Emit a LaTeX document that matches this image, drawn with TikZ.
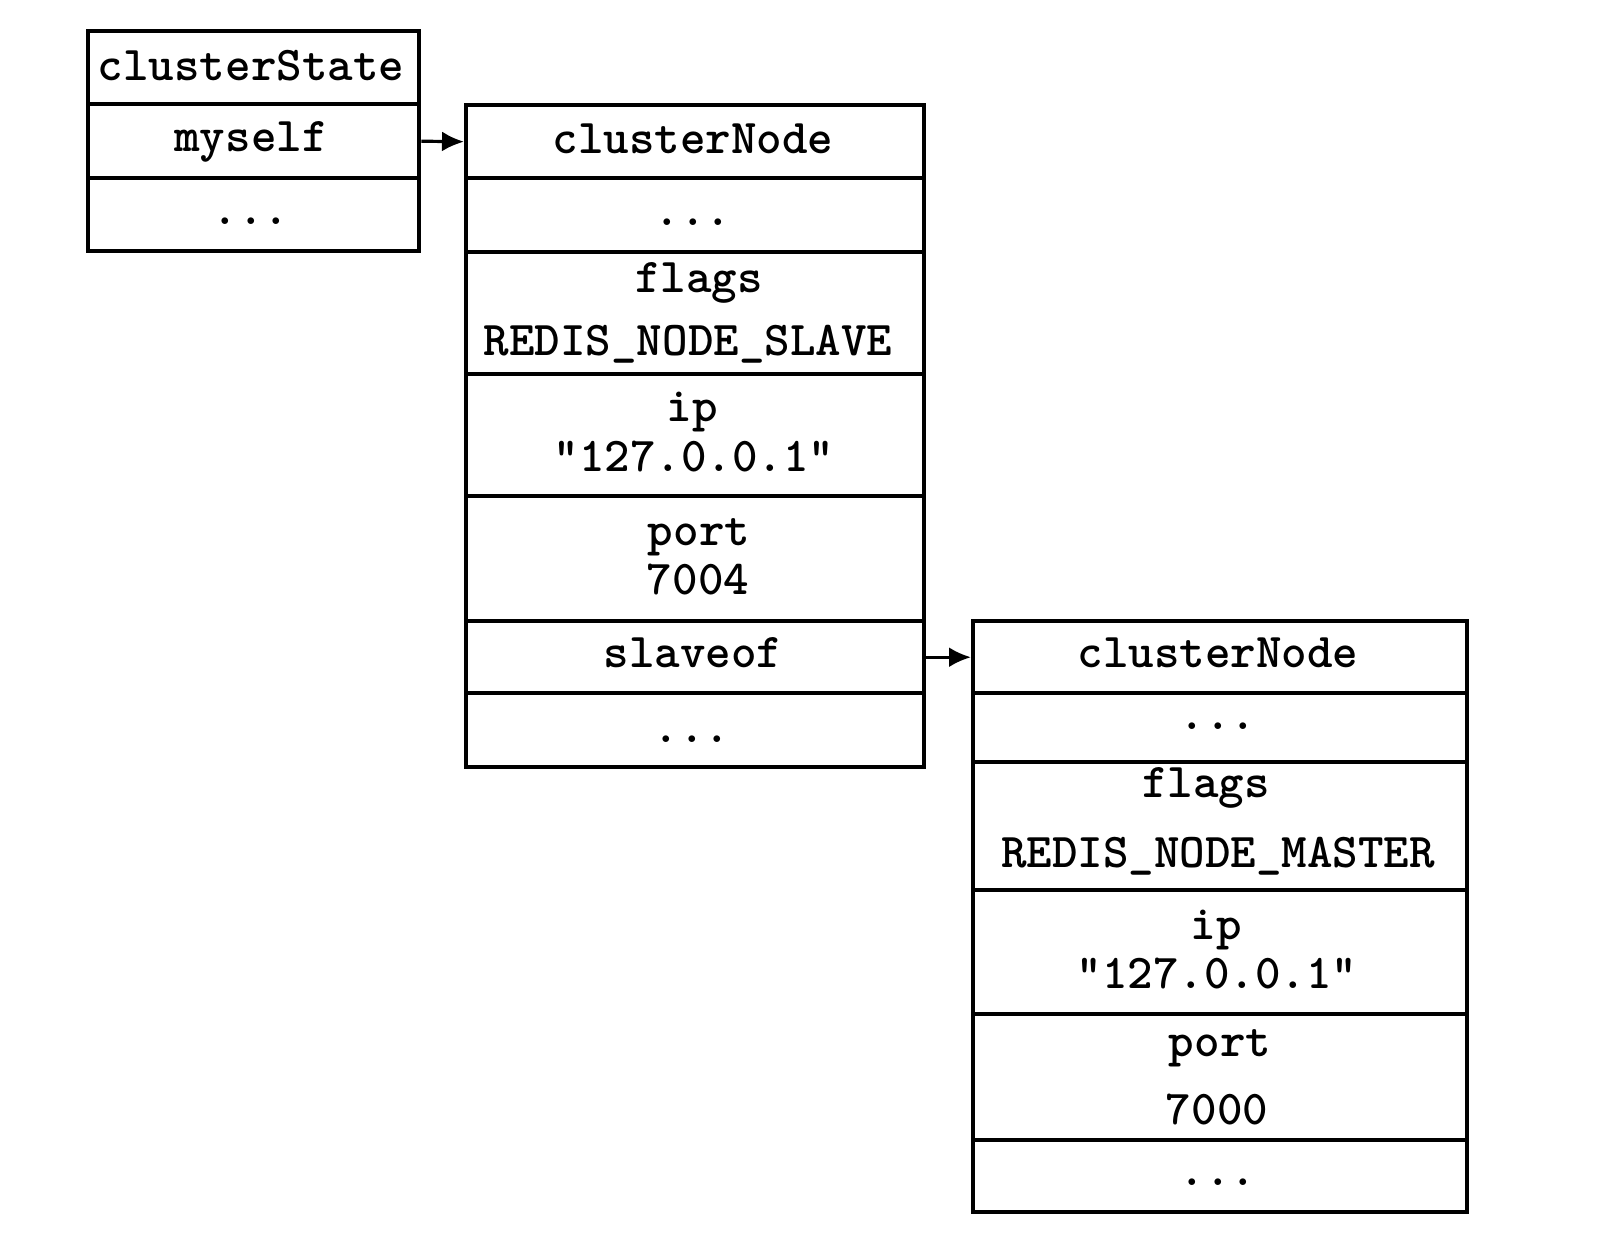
\documentclass[tikz,border=0pt]{standalone}
\usepackage{fontspec}
\usetikzlibrary{arrows.meta}
\tikzset{
  rowbox/.style={draw, line width=2.2pt, rectangle, inner sep=0pt, anchor=north west},
  txt/.style={anchor=base, inner sep=0pt, font=\ttfamily\bfseries\fontsize{24.3}{28}\selectfont},
  ptr/.style={line width=1.6pt, -{Latex[length=11pt,width=10pt]}}
}
\newcommand{\rowb}[5]{\node[rowbox, minimum width=#4*0.5pt, minimum height=#5*0.5pt] (#1) at (#2,#3) {};}
\begin{document}
\begin{tikzpicture}[x=0.5pt,y=-0.5pt]
\useasboundingbox (0,0) rectangle (1622,1250);
% clusterState
\rowb{csA}{86}{29}{331}{73}
\rowb{csB}{86}{102}{331}{74}
\rowb{csC}{86}{176}{331}{73}
\node[txt] (tcsA) at (251,80) {clusterState};
\node[txt] (tcsB) at (251,151) {myself};
\node[txt] (tcsC) at (251,224) {...};
% clusterNode 1
\rowb{naA}{464}{103}{458}{73}
\rowb{naB}{464}{176}{458}{74}
\rowb{naC}{464}{250}{458}{122}
\rowb{naD}{464}{372}{458}{122}
\rowb{naE}{464}{494}{458}{125}
\rowb{naF}{464}{619}{458}{72}
\rowb{naG}{464}{691}{458}{74}
\node[txt] (tnaA) at (693,153) {clusterNode};
\node[txt] (tnaB) at (693,225) {...};
\node[txt] (tnaC1) at (699,292) {flags};
\node[txt] (tnaC2) at (688,355) {REDIS\_NODE\_SLAVE};
\node[txt] (tnaD1) at (692,421) {ip};
\node[txt] (tnaD2) at (694,471) {"127.0.0.1"};
\node[txt] (tnaE1) at (699,545) {port};
\node[txt] (tnaE2) at (698,594) {7004};
\node[txt] (tnaF) at (693,667) {slaveof};
\node[txt] (tnaG) at (692,742) {...};
% clusterNode 2
\rowb{nbA}{971}{619}{494}{72}
\rowb{nbB}{971}{691}{494}{69}
\rowb{nbC}{971}{760}{494}{128}
\rowb{nbD}{971}{888}{494}{124}
\rowb{nbE}{971}{1012}{494}{126}
\rowb{nbF}{971}{1138}{494}{72}
\node[txt] (tnbA) at (1218,667) {clusterNode};
\node[txt] (tnbB) at (1218,729) {...};
\node[txt] (tnbC1) at (1206,797) {flags};
\node[txt] (tnbC2) at (1218,867) {REDIS\_NODE\_MASTER};
\node[txt] (tnbD1) at (1216,939) {ip};
\node[txt] (tnbD2) at (1217,988) {"127.0.0.1"};
\node[txt] (tnbE1) at (1220,1056) {port};
\node[txt] (tnbE2) at (1217,1124) {7000};
\node[txt] (tnbF) at (1218,1185) {...};
% pointers
\draw[ptr] (csB.east) -- (naA.west);
\draw[ptr] (naF.east) -- (nbA.west);
\end{tikzpicture}
\end{document}
